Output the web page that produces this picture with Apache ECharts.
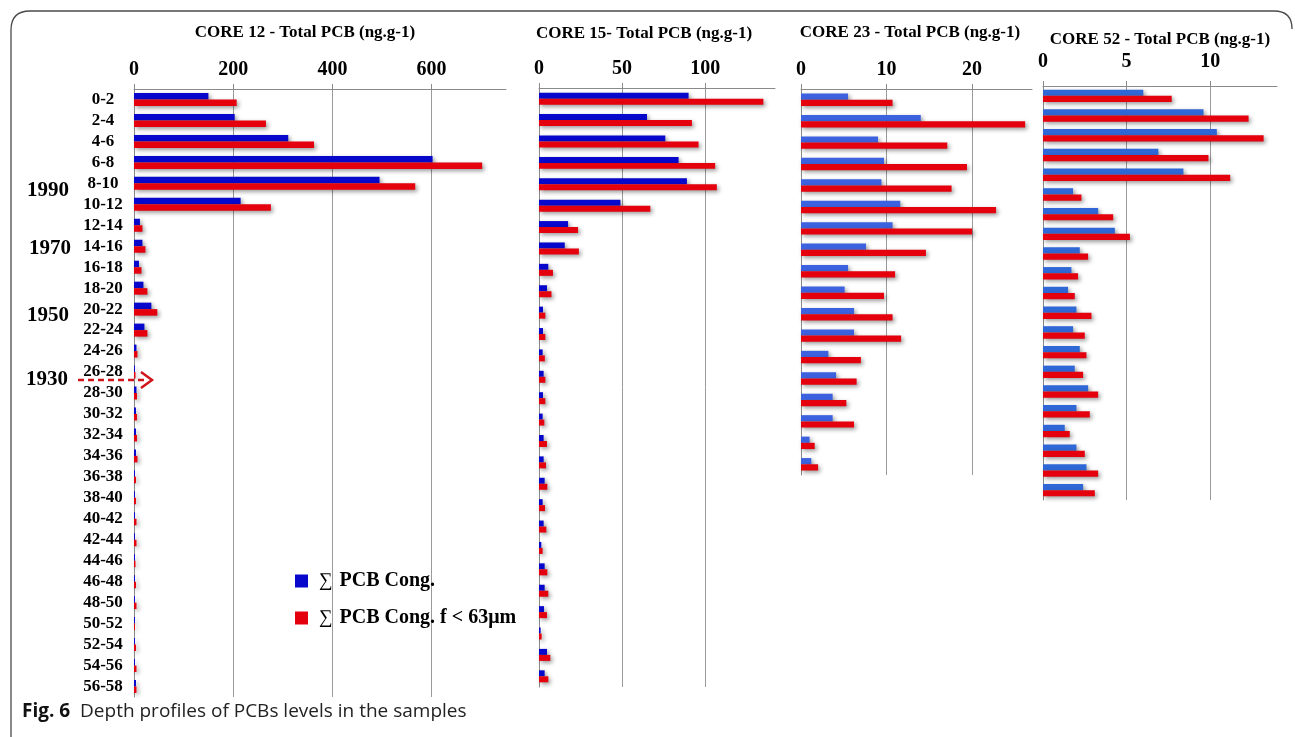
<!DOCTYPE html>
<html><head><meta charset="utf-8">
<script src="https://cdn.jsdelivr.net/npm/echarts@6/dist/echarts.min.js"></script>
<style>html,body{margin:0;padding:0;background:#fff}#c{width:1295px;height:737px}</style>
</head><body><div id="c"></div>
<script>
// ---------- data ----------
const depths = ['0-2','2-4','4-6','6-8','8-10','10-12','12-14','14-16','16-18','18-20','20-22','22-24','24-26','26-28','28-30','30-32','32-34','34-36','36-38','38-40','40-42','42-44','44-46','46-48','48-50','50-52','52-54','54-56','56-58'];

const core12Cong = [150, 203, 311, 602, 495, 215, 12, 17, 10, 19, 35, 21, 5, 2, 5, 4, 4, 4, 2, 2, 2, 2, 2, 2, 2, 2, 2, 2, 4];
const core12Fine = [207, 266, 363, 702, 567, 276, 17, 23, 15, 27, 47, 27, 7, 3, 6, 6, 6, 7, 4, 4, 5, 5, 3, 4, 5, 2, 4, 5, 5];

const core15Cong = [90, 65, 76, 84, 89, 49, 17.5, 15.5, 5.6, 4.8, 2.4, 2.4, 2.2, 2.8, 2.4, 2.2, 2.8, 2.8, 3.4, 2.2, 2.8, 1.4, 3.4, 3.4, 3.0, 1.0, 4.8, 3.4];
const core15Fine = [135, 92, 96, 106, 107, 67, 23.5, 24, 8.4, 7.5, 3.8, 3.8, 3.5, 3.8, 3.8, 3.2, 4.8, 4.2, 5.0, 3.6, 4.4, 2.2, 5.0, 5.6, 4.8, 1.6, 6.8, 5.6];

const core23Cong = [5.5, 14.0, 9.0, 9.7, 9.4, 11.6, 10.7, 7.6, 5.5, 5.1, 6.2, 6.2, 3.2, 4.1, 3.7, 3.7, 1.0, 1.2];
const core23Fine = [10.7, 26.2, 17.1, 19.4, 17.6, 22.8, 20.0, 14.6, 11.0, 9.7, 10.7, 11.7, 7.0, 6.5, 5.3, 6.2, 1.6, 2.0];

const core52Cong = [6.0, 9.6, 10.4, 6.9, 8.4, 1.8, 3.3, 4.3, 2.2, 1.7, 1.5, 2.0, 1.8, 2.2, 1.9, 2.7, 2.0, 1.3, 2.0, 2.6, 2.4];
const core52Fine = [7.7, 12.3, 13.2, 9.9, 11.2, 2.3, 4.2, 5.2, 2.7, 2.1, 1.9, 2.9, 2.5, 2.6, 2.4, 3.3, 2.8, 1.6, 2.5, 3.3, 3.1];

const ticks12 = [0, 200, 400, 600];
const ticks15 = [0, 50, 100];
const ticks23 = [0, 10, 20];
const ticks52 = [0, 5, 10];

const legendNames = ['∑ PCB Cong.', '∑ PCB Cong. f < 63μm'];
const titles = ['CORE 12 - Total PCB (ng.g-1)', 'CORE 15- Total PCB (ng.g-1)', 'CORE 23 - Total PCB (ng.g-1)', 'CORE 52 - Total PCB (ng.g-1)'];
const years = ['1990', '1970', '1950', '1930'];
const captionBold = 'Fig. 6';
const captionText = 'Depth profiles of PCBs levels in the samples';

// ---------- layout / style ----------
const SERIF = '"Liberation Serif", "Times New Roman", serif';
const SANS = '"Open Sans", "Noto Sans", sans-serif';
const RED = '#e4000c';

const panels = [
  { cats: depths.slice(0, 29), cong: core12Cong, fine: core12Fine, ticks: ticks12, max: 750,
    grid: { left: 134, top: 89, width: 372, height: 608 }, blue: '#0808cc', showCats: true, lm: 9, gap: '38%' },
  { cats: depths.slice(0, 28), cong: core15Cong, fine: core15Fine, ticks: ticks15, max: 142,
    grid: { left: 539, top: 88, width: 236, height: 599 }, blue: '#0808cc', showCats: false, lm: 9, gap: '44%' },
  { cats: depths.slice(0, 18), cong: core23Cong, fine: core23Fine, ticks: ticks23, max: 27,
    grid: { left: 801, top: 89, width: 231, height: 386 }, blue: '#3d62df', showCats: false, lm: 9, gap: '42%' },
  { cats: depths.slice(0, 21), cong: core52Cong, fine: core52Fine, ticks: ticks52, max: 14,
    grid: { left: 1043, top: 86, width: 234, height: 414 }, blue: '#2f68d6', showCats: false, lm: 14, gap: '37%' }
];

const grids = [], xAxes = [], yAxes = [], series = [];
const shadow = { shadowBlur: 4, shadowColor: 'rgba(0,0,0,0.4)', shadowOffsetX: 2, shadowOffsetY: 2 };

panels.forEach((p, i) => {
  grids.push(Object.assign({ containLabel: false }, p.grid));
  xAxes.push({
    type: 'value', gridIndex: i, position: 'top', min: 0, max: p.max,
    axisLine: { show: true, lineStyle: { color: '#8a8a8a', width: 1 } },
    axisTick: { show: true, length: 5, customValues: p.ticks, lineStyle: { color: '#8a8a8a' } },
    axisLabel: { customValues: p.ticks, fontFamily: SERIF, fontWeight: 'bold', fontSize: 20, color: '#000', margin: p.lm },
    splitLine: { show: true, lineStyle: { color: '#9a9a9a', width: 1 } }
  });
  yAxes.push({
    type: 'category', gridIndex: i, inverse: true, data: p.cats,
    axisLine: { show: true, lineStyle: { color: '#8a8a8a', width: 1 } },
    axisTick: { show: false },
    splitLine: { show: false },
    axisLabel: { show: p.showCats, interval: 0, fontFamily: SERIF, fontWeight: 'bold', fontSize: 17,
                 color: '#000', align: 'center', margin: 31, padding: [0, 0, 5, 0] }
  });
  series.push({
    type: 'bar', name: legendNames[0], xAxisIndex: i, yAxisIndex: i, data: p.cong,
    barGap: '0%', barCategoryGap: p.gap,
    itemStyle: Object.assign({ color: p.blue }, shadow)
  });
  series.push({
    type: 'bar', name: legendNames[1], xAxisIndex: i, yAxisIndex: i, data: p.fine,
    barGap: '0%', barCategoryGap: p.gap,
    itemStyle: Object.assign({ color: RED }, shadow)
  });
});

const titlePos = [[305, 33], [644, 34], [910, 33], [1160, 40]];
const yearPos = [[48, 191], [50, 249], [48, 316], [47, 380]];
const frameStyle = { stroke: '#4a4a4a', lineWidth: 1.3, fill: 'none' };

const graphic = [
  { type: 'line', silent: true, shape: { x1: 11, y1: 737, x2: 11, y2: 30 }, style: frameStyle },
  { type: 'bezierCurve', silent: true, shape: { x1: 11, y1: 30, cpx1: 11, cpy1: 11, x2: 30, y2: 11 }, style: frameStyle },
  { type: 'line', silent: true, shape: { x1: 30, y1: 11, x2: 1274, y2: 11 }, style: frameStyle },
  { type: 'bezierCurve', silent: true, shape: { x1: 1274, y1: 11, cpx1: 1292, cpy1: 11, x2: 1292, y2: 29 }, style: frameStyle }
];
titles.forEach((t, i) => graphic.push({
  type: 'text', x: titlePos[i][0], y: titlePos[i][1], silent: true,
  style: { text: t, fontFamily: SERIF, fontWeight: 'bold', fontSize: 17, fill: '#000', align: 'center', verticalAlign: 'middle' }
}));
years.forEach((t, i) => graphic.push({
  type: 'text', x: yearPos[i][0], y: yearPos[i][1], silent: true,
  style: { text: t, fontFamily: SERIF, fontWeight: 'bold', fontSize: 21, fill: '#000', align: 'center', verticalAlign: 'middle' }
}));
graphic.push({ type: 'line', silent: true, shape: { x1: 78, y1: 380, x2: 148, y2: 380 },
  style: { stroke: '#d0161c', lineWidth: 2.5, lineDash: [6, 4] } });
graphic.push({ type: 'polyline', silent: true, shape: { points: [[141, 372], [152, 380], [141, 388]] },
  style: { stroke: '#d0161c', lineWidth: 2.5, fill: 'none' } });
graphic.push({ type: 'text', x: 22, y: 712, silent: true,
  style: { text: '{b|' + captionBold + '}  ' + captionText, fontFamily: SANS, fontSize: 19, fill: '#222',
           verticalAlign: 'middle', rich: { b: { fontFamily: SANS, fontWeight: 'bold', fontSize: 19, fill: '#111' } } } });

const chart = echarts.init(document.getElementById('c'), null, { renderer: 'canvas' });
chart.setOption({
  backgroundColor: '#fff',
  animation: false,
  grid: grids, xAxis: xAxes, yAxis: yAxes, series: series,
  legend: {
    data: legendNames, orient: 'vertical', left: 290, top: 566, itemWidth: 13, itemHeight: 13, itemGap: 17,
    icon: 'rect', selectedMode: false,
    formatter: n => '{s|' + n.slice(0, 1) + '}' + n.slice(1),
    textStyle: { fontFamily: SERIF, fontWeight: 'bold', fontSize: 20, color: '#000',
                 rich: { s: { fontFamily: SERIF, fontWeight: 'normal', fontSize: 19, color: '#000', padding: [0, 2, 0, 6] } } }
  },
  graphic: graphic
});
</script></body></html>
